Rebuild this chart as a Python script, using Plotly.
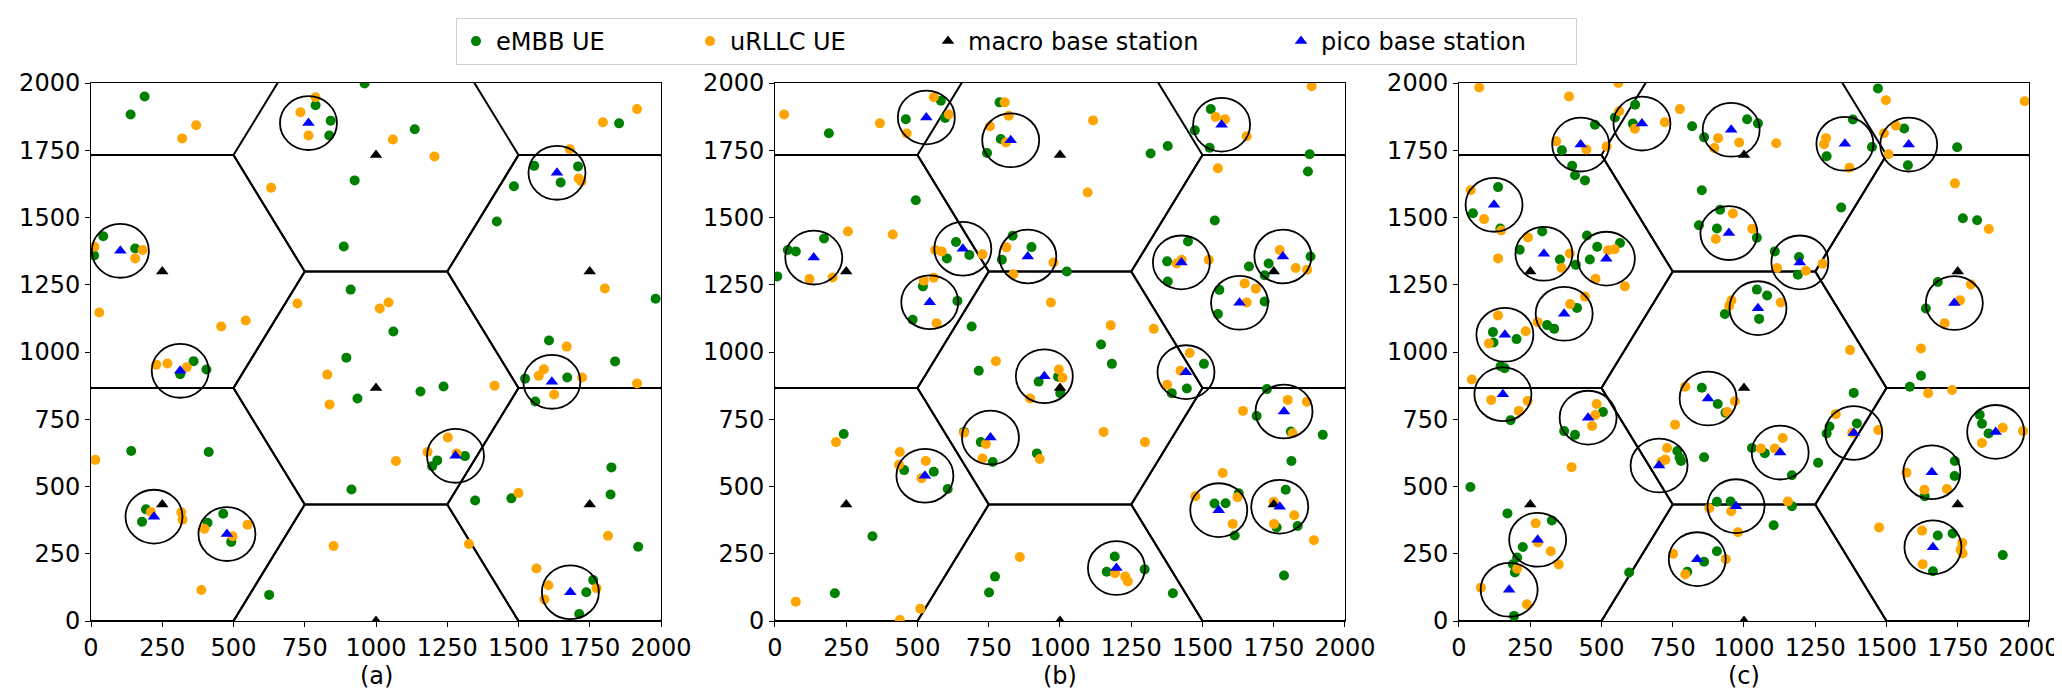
import numpy as np
import plotly.graph_objects as go

# ---------------- data ----------------
TICKS = [0, 250, 500, 750, 1000, 1250, 1500, 1750, 2000]
PANEL_LABELS = ["(a)", "(b)", "(c)"]
SERIES_NAMES = ["eMBB UE", "uRLLC UE", "macro base station", "pico base station"]

# macro base stations = centres of the hexagonal macro cells
MACRO = [(1000, 866), (1000, 1732), (250, 1299), (1750, 1299),
         (250, 433), (1750, 433), (1000, 0)]
HEX_RADIUS = 500
PICO_RADIUS = 100

PICO_A = [(763, 1851), (1635, 1666), (103, 1376), (313, 930), (1617, 889),
          (1279, 614), (221, 388), (477, 323), (1682, 107)]
PICO_B = [(531, 1872), (827, 1787), (1567, 1845), (136, 1351), (659, 1384),
          (887, 1355), (1426, 1333), (1782, 1355), (543, 1185), (1630, 1183),
          (945, 910), (1442, 925), (756, 682), (1786, 779), (526, 540),
          (1557, 412), (1771, 425), (1198, 197)]
PICO_C = [(642, 1849), (955, 1826), (427, 1771), (1354, 1774), (1578, 1771),
          (123, 1547), (947, 1442), (298, 1365), (517, 1347), (1196, 1333),
          (369, 1142), (1049, 1163), (1738, 1182), (161, 1064), (154, 843),
          (453, 756), (874, 827), (702, 578), (1127, 626), (1385, 699),
          (1883, 703), (1659, 553), (972, 427), (276, 302), (836, 230),
          (1663, 274), (176, 116)]

EMBB_A = [(188, 1950), (139, 1883), (788, 1917), (841, 1860), (836, 1805), (960, 1998),
          (1136, 1828), (925, 1638), (887, 1392), (1555, 1692), (1709, 1690), (1648, 1630),
          (1484, 1616), (1424, 1485), (43, 1430), (155, 1385), (11, 1359), (1853, 1850),
          (1981, 1198), (911, 1232), (1061, 1076), (896, 979), (360, 966), (405, 935),
          (313, 917), (935, 827), (1156, 853), (1237, 872), (1607, 1043), (1839, 965),
          (1523, 901), (1671, 905), (1559, 816), (141, 632), (413, 628), (1312, 613),
          (1197, 575), (1215, 597), (193, 415), (179, 369), (409, 365), (464, 399),
          (492, 294), (625, 97), (914, 489), (1348, 448), (1475, 456), (1826, 571),
          (1823, 470), (1920, 276), (1762, 152), (1738, 107), (1713, 26)]
URLLC_A = [(788, 1947), (735, 1891), (763, 1805), (369, 1843), (320, 1794), (1059, 1790),
           (1205, 1727), (632, 1611), (1680, 1754), (1711, 1645), (1721, 1634), (1796, 1854),
           (1916, 1903), (12, 1391), (181, 1379), (155, 1348), (1803, 1236), (29, 1147),
           (724, 1180), (1044, 1184), (1013, 1162), (543, 1117), (457, 1095), (229, 953),
           (268, 957), (336, 943), (829, 916), (837, 805), (1416, 875), (1589, 936),
           (1571, 912), (1669, 1020), (1723, 905), (1916, 883), (1625, 842), (1252, 682),
           (1181, 628), (1283, 623), (15, 599), (210, 405), (317, 404), (321, 377),
           (398, 343), (549, 358), (497, 315), (387, 115), (851, 279), (1070, 595),
           (1500, 476), (1326, 286), (1563, 195), (1605, 133), (1591, 80), (1774, 122),
           (1814, 317)]

EMBB_B = [(189, 1813), (459, 1865), (582, 1934), (597, 1870), (788, 1928), (792, 1792),
          (744, 1740), (1318, 1738), (1378, 1766), (1529, 1903), (1473, 1824), (1525, 1759),
          (1876, 1735), (1870, 1671), (494, 1564), (1543, 1489), (172, 1422), (73, 1374),
          (45, 1379), (8, 1281), (635, 1409), (682, 1361), (603, 1348), (834, 1432),
          (900, 1390), (796, 1343), (1024, 1299), (1449, 1411), (1376, 1337), (1378, 1262),
          (1663, 1318), (1732, 1329), (1718, 1285), (1879, 1355), (519, 1244), (640, 1190),
          (483, 1120), (690, 1095), (1559, 1231), (1718, 1188), (1554, 1141), (1144, 1028),
          (1182, 956), (715, 930), (925, 890), (993, 908), (1001, 847), (1505, 956),
          (1445, 864), (1392, 847), (1726, 862), (1690, 762), (1810, 704), (1922, 692),
          (1812, 595), (241, 695), (663, 703), (722, 665), (764, 591), (919, 623),
          (453, 561), (557, 555), (606, 491), (342, 315), (1542, 437), (1581, 438),
          (1627, 475), (1613, 318), (1792, 488), (1760, 348), (1834, 353), (1786, 169),
          (1192, 240), (1164, 183), (1297, 192), (772, 165), (751, 106), (210, 103),
          (1396, 103)]
URLLC_B = [(32, 1883), (368, 1850), (557, 1947), (610, 1883), (462, 1812), (806, 1928),
           (820, 1878), (754, 1839), (810, 1779), (1116, 1861), (1546, 1874), (1579, 1865),
           (1655, 1802), (1883, 1988), (1554, 1683), (1097, 1593), (256, 1448), (413, 1437),
           (562, 1379), (585, 1374), (728, 1363), (812, 1389), (977, 1333), (836, 1289),
           (1409, 1329), (1427, 1343), (1522, 1343), (1771, 1379), (1827, 1312), (1867, 1306),
           (121, 1271), (202, 1277), (522, 1265), (557, 1276), (567, 1107), (1648, 1255),
           (1687, 1235), (1655, 1184), (968, 1184), (1178, 1099), (1329, 1086), (1455, 996),
           (775, 966), (996, 935), (1009, 904), (895, 827), (1423, 930), (1376, 878),
           (1799, 822), (1866, 815), (1642, 781), (1816, 698), (1153, 703), (1298, 665),
           (214, 665), (438, 628), (529, 595), (435, 581), (514, 531), (663, 700),
           (740, 658), (728, 604), (929, 602), (1571, 550), (1475, 464), (1623, 460),
           (1606, 361), (1750, 443), (1822, 393), (1751, 361), (1891, 300), (859, 238),
           (1193, 178), (1229, 165), (1238, 147), (73, 72), (510, 46), (438, 4)]

EMBB_C = [(618, 1919), (547, 1872), (610, 1849), (477, 1845), (361, 1750), (397, 1692),
          (407, 1657), (442, 1638), (818, 1839), (860, 1798), (1011, 1865), (1049, 1850),
          (1470, 1980), (1382, 1864), (1449, 1762), (1290, 1728), (1562, 1831), (1575, 1694),
          (1748, 1761), (137, 1613), (49, 1516), (145, 1459), (852, 1601), (916, 1529),
          (842, 1471), (905, 1459), (1045, 1425), (1341, 1537), (1768, 1497), (1818, 1490),
          (292, 1448), (213, 1380), (354, 1344), (410, 1324), (449, 1433), (485, 1391),
          (459, 1344), (565, 1405), (1108, 1374), (1193, 1353), (1189, 1287), (1680, 1260),
          (1638, 1162), (414, 1164), (309, 1100), (334, 1086), (1045, 1232), (1081, 1210),
          (933, 1141), (1053, 1123), (119, 1074), (202, 1048), (121, 1035), (146, 947),
          (160, 940), (181, 746), (505, 777), (369, 706), (407, 692), (852, 867),
          (908, 807), (935, 774), (1385, 848), (1396, 734), (1300, 723), (1290, 697),
          (1582, 871), (1621, 912), (1827, 767), (1835, 733), (1858, 697), (1740, 595),
          (1739, 539), (1634, 464), (766, 632), (774, 607), (779, 595), (860, 609),
          (1028, 643), (1073, 624), (1168, 542), (1260, 588), (40, 498), (905, 443),
          (953, 444), (1168, 427), (1104, 356), (170, 400), (326, 374), (224, 275),
          (204, 236), (189, 211), (196, 180), (193, 19), (597, 180), (905, 259),
          (860, 220), (801, 183), (1680, 318), (1732, 325), (1663, 185), (1908, 245)]
URLLC_C = [(71, 1983), (386, 1950), (559, 2000), (562, 1895), (722, 1854), (617, 1830),
           (775, 1903), (341, 1783), (447, 1753), (518, 1764), (909, 1795), (983, 1779),
           (896, 1758), (1113, 1776), (1498, 1936), (1985, 1932), (1288, 1795), (1281, 1772),
           (1370, 1685), (1491, 1813), (1533, 1841), (1507, 1735), (1740, 1627), (41, 1601),
           (88, 1494), (148, 1452), (242, 1426), (137, 1348), (389, 1366), (360, 1312),
           (479, 1272), (523, 1378), (546, 1382), (582, 1244), (961, 1515), (1029, 1458),
           (901, 1420), (1116, 1312), (1217, 1302), (1276, 1328), (1859, 1457), (1796, 1251),
           (1758, 1192), (1704, 1107), (442, 1206), (390, 1178), (276, 1111), (234, 1077),
           (137, 1136), (105, 1032), (956, 1192), (948, 1172), (1129, 1184), (1372, 1007),
           (1621, 1013), (45, 898), (113, 822), (241, 818), (210, 781), (483, 807),
           (478, 766), (467, 725), (395, 572), (794, 871), (968, 817), (941, 777),
           (758, 730), (730, 643), (724, 600), (710, 592), (1059, 641), (1108, 641),
           (1136, 680), (1322, 769), (1380, 700), (1471, 710), (1646, 847), (1730, 859),
           (1835, 662), (1908, 718), (1979, 706), (1570, 551), (1633, 488), (1712, 491),
           (878, 419), (955, 408), (1154, 444), (979, 330), (1474, 348), (269, 363),
           (277, 292), (322, 259), (350, 210), (204, 194), (77, 124), (238, 62),
           (751, 250), (936, 230), (794, 174), (1625, 336), (1766, 291), (1760, 265),
           (1767, 251), (1627, 211)]

PANELS = [
    (EMBB_A, URLLC_A, PICO_A),
    (EMBB_B, URLLC_B, PICO_B),
    (EMBB_C, URLLC_C, PICO_C),
]

# ---------------- styling ----------------
FONT = "DejaVu Sans"
W, H = 2062, 690
ML, MR, MT, MB = 83, 41, 75, 77
PLOT_W, PLOT_H = W - ML - MR, H - MT - MB
DOMAINS = [[0.0, 0.29412], [0.35294, 0.64706], [0.70588, 1.0]]
C_EMBB, C_URLLC, C_MACRO, C_PICO = "#008000", "#FFA500", "#000000", "#0000FF"
LEGEND_WIDTHS = [189, 193, 308, 250]


def hex_edges(centres, r):
    xs, ys = [], []
    ang = np.deg2rad(np.arange(0, 361, 60))
    for cx, cy in centres:
        xs += list(cx + r * np.cos(ang)) + [None]
        ys += list(cy + r * np.sin(ang)) + [None]
    return xs, ys


def xy(points):
    a = np.array(points, dtype=float)
    return a[:, 0], a[:, 1]


fig = go.Figure()
shapes = []
annotations = []
hx, hy = hex_edges(MACRO, HEX_RADIUS)
mx, my = xy(MACRO)

for i, (embb, urllc, pico) in enumerate(PANELS):
    sfx = "" if i == 0 else str(i + 1)
    xa, ya = "x" + sfx, "y" + sfx
    first = i == 0
    fig.add_trace(go.Scatter(x=hx, y=hy, mode="lines", xaxis=xa, yaxis=ya,
                             line=dict(color="black", width=2),
                             showlegend=False, hoverinfo="skip"))
    ex, ey = xy(embb)
    fig.add_trace(go.Scatter(x=ex, y=ey, mode="markers", name=SERIES_NAMES[0],
                             xaxis=xa, yaxis=ya, legendgroup="e", showlegend=first,
                             marker=dict(color=C_EMBB, size=10),
                             legendwidth=LEGEND_WIDTHS[0]))
    ux, uy = xy(urllc)
    fig.add_trace(go.Scatter(x=ux, y=uy, mode="markers", name=SERIES_NAMES[1],
                             xaxis=xa, yaxis=ya, legendgroup="u", showlegend=first,
                             marker=dict(color=C_URLLC, size=10),
                             legendwidth=LEGEND_WIDTHS[1]))
    fig.add_trace(go.Scatter(x=mx, y=my, mode="markers", name=SERIES_NAMES[2],
                             xaxis=xa, yaxis=ya, legendgroup="m", showlegend=first,
                             marker=dict(color=C_MACRO, size=11, symbol="triangle-up"),
                             legendwidth=LEGEND_WIDTHS[2]))
    px_, py_ = xy(pico)
    fig.add_trace(go.Scatter(x=px_, y=py_, mode="markers", name=SERIES_NAMES[3],
                             xaxis=xa, yaxis=ya, legendgroup="p", showlegend=first,
                             marker=dict(color=C_PICO, size=11, symbol="triangle-up"),
                             legendwidth=LEGEND_WIDTHS[3]))
    for cx, cy in pico:
        shapes.append(dict(type="circle", xref=xa, yref=ya, layer="above",
                           x0=cx - PICO_RADIUS, x1=cx + PICO_RADIUS,
                           y0=cy - PICO_RADIUS, y1=cy + PICO_RADIUS,
                           line=dict(color="black", width=1.8)))
    # panel label centred under each subplot
    annotations.append(dict(text=PANEL_LABELS[i], xref="paper", yref="paper",
                            x=(DOMAINS[i][0] + DOMAINS[i][1]) / 2, xanchor="center",
                            y=-(668 - (MT + PLOT_H)) / PLOT_H, yanchor="middle",
                            showarrow=False,
                            font=dict(family=FONT, size=24, color="black")))

axis_common = dict(range=[0, 2000], tickmode="array", tickvals=TICKS,
                   ticktext=[str(t) for t in TICKS], ticks="outside", ticklen=5,
                   tickwidth=1, tickcolor="black", showline=True, linecolor="black",
                   linewidth=1, mirror=True, showgrid=False, zeroline=False,
                   tickfont=dict(family=FONT, size=24, color="black"),
                   fixedrange=True, automargin=False)

layout = dict(
    width=W, height=H,
    margin=dict(l=ML, r=MR, t=MT, b=MB, pad=0, autoexpand=False),
    paper_bgcolor="white", plot_bgcolor="white",
    font=dict(family=FONT, size=24, color="black"),
    shapes=shapes,
    annotations=annotations,
    showlegend=True,
    legend=dict(orientation="h", x=(448 - ML) / PLOT_W, xanchor="left",
                y=1 + (MT - 10) / PLOT_H, yanchor="top",
                bgcolor="white", bordercolor="#d0d0d0", borderwidth=1,
                font=dict(family=FONT, size=24, color="black"),
                itemsizing="trace", tracegroupgap=0),
)
for i in range(3):
    sfx = "" if i == 0 else str(i + 1)
    layout["xaxis" + sfx] = dict(axis_common, domain=DOMAINS[i], anchor="y" + sfx)
    layout["yaxis" + sfx] = dict(axis_common, domain=[0, 1], anchor="x" + sfx)

fig.update_layout(**layout)
fig.write_html("out.html")
